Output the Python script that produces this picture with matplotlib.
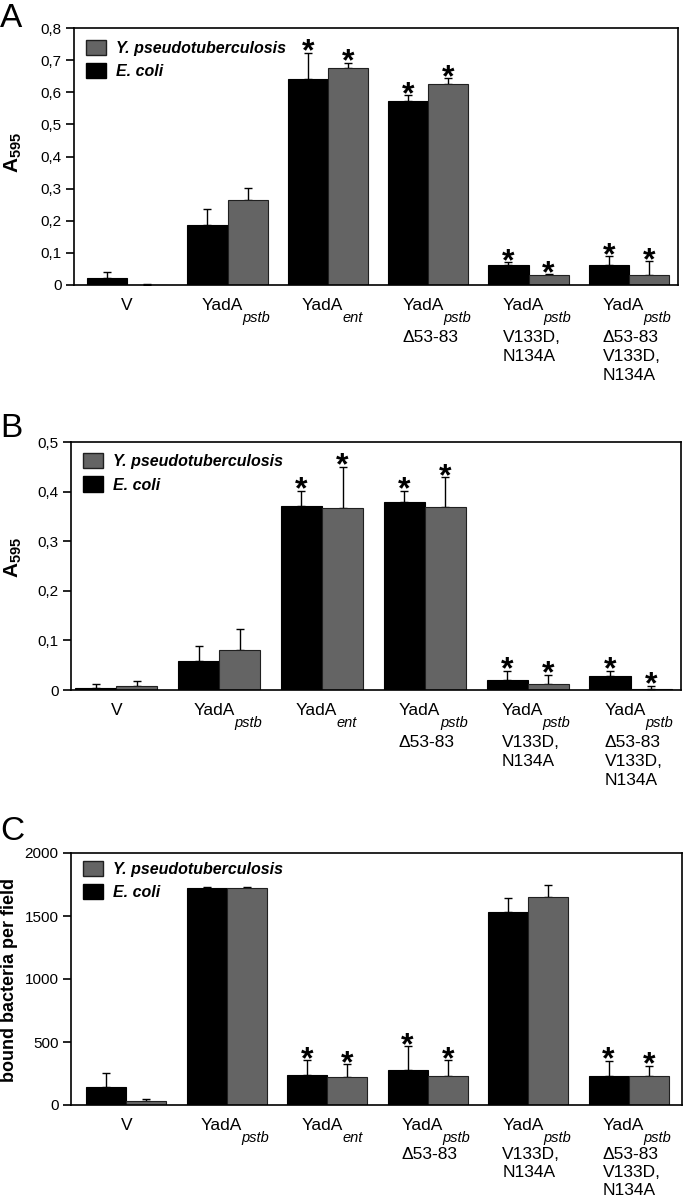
import numpy as np
import matplotlib
matplotlib.use("Agg")
import matplotlib.pyplot as plt
from matplotlib.patches import Patch

plt.rcParams['font.family'] = ['Liberation Sans', 'DejaVu Sans']
plt.rcParams['mathtext.fontset'] = 'custom'
plt.rcParams['mathtext.bf'] = 'Liberation Sans:bold'
plt.rcParams['mathtext.rm'] = 'Liberation Sans'

# groups on the x axis
cat_main = ['V', 'YadA', 'YadA', 'YadA', 'YadA', 'YadA']
cat_sub = ['', 'pstb', 'ent', 'pstb', 'pstb', 'pstb']
cat_extra = [[], [], [], ['Δ53-83'], ['V133D,', 'N134A'], ['Δ53-83', 'V133D,', 'N134A']]

series_names = ['Y. pseudotuberculosis', 'E. coli']

# panel A
a_ecoli = [0.023, 0.186, 0.642, 0.574, 0.061, 0.063]
a_ecoli_err = [0.017, 0.050, 0.080, 0.017, 0.010, 0.026]
a_yp = [0.0, 0.266, 0.674, 0.627, 0.030, 0.032]
a_yp_err = [0.004, 0.035, 0.017, 0.016, 0.003, 0.042]
a_stars = [False, False, True, True, True, True]
a_ticks = [0, 0.1, 0.2, 0.3, 0.4, 0.5, 0.6, 0.7, 0.8]
a_ticklabels = ['0', '0,1', '0,2', '0,3', '0,4', '0,5', '0,6', '0,7', '0,8']

# panel B
b_ecoli = [0.005, 0.059, 0.370, 0.380, 0.020, 0.029]
b_ecoli_err = [0.008, 0.030, 0.031, 0.021, 0.019, 0.010]
b_yp = [0.009, 0.081, 0.367, 0.369, 0.013, 0.003]
b_yp_err = [0.010, 0.042, 0.083, 0.060, 0.018, 0.006]
b_stars = [False, False, True, True, True, True]
b_ticks = [0, 0.1, 0.2, 0.3, 0.4, 0.5]
b_ticklabels = ['0', '0,1', '0,2', '0,3', '0,4', '0,5']

# panel C
c_ecoli = [143, 1720, 241, 279, 1528, 231]
c_ecoli_err = [114, 12, 114, 188, 117, 119]
c_yp = [32, 1720, 225, 231, 1650, 231]
c_yp_err = [16, 12, 99, 124, 93, 79]
c_stars = [False, False, True, True, False, True]
c_ticks = [0, 500, 1000, 1500, 2000]
c_ticklabels = ['0', '500', '1000', '1500', '2000']

BLACK = '#000000'
GRAY = '#646464'
W = 683
H = 1199

fig = plt.figure(figsize=(W / 100, H / 100), dpi=100)


def px(v):
    # pixels -> points
    return v * 72 / 100


def panel(rect, ecoli, ecoli_err, yp, yp_err, stars, ticks, ticklabels, xlim, leg_y,
          extra_start, line_step):
    ax = fig.add_axes(rect)
    x = np.arange(len(cat_main))
    w = 0.40
    ax.bar(x - w / 2, ecoli, w, color=BLACK, edgecolor=BLACK, linewidth=0.8, zorder=2)
    ax.bar(x + w / 2, yp, w, color=GRAY, edgecolor='#202020', linewidth=0.8, zorder=2)
    ax.errorbar(x - w / 2, ecoli, yerr=[np.zeros(len(x)), ecoli_err], fmt='none',
                ecolor=BLACK, elinewidth=1.0, capsize=3, capthick=1.0, zorder=1)
    ax.errorbar(x + w / 2, yp, yerr=[np.zeros(len(x)), yp_err], fmt='none',
                ecolor=BLACK, elinewidth=1.0, capsize=3, capthick=1.0, zorder=1)

    for i in range(len(x)):
        if stars[i]:
            for xx, top in [(x[i] - w / 2, ecoli[i] + ecoli_err[i]), (x[i] + w / 2, yp[i] + yp_err[i])]:
                ax.annotate('*', xy=(xx, top), xytext=(0, -5.5), textcoords='offset points',
                            ha='center', va='baseline', fontsize=23, fontweight='bold',
                            annotation_clip=False)

    ax.set_xlim(*xlim)
    ax.set_ylim(ticks[0], ticks[-1])
    ax.set_yticks(ticks)
    ax.set_yticklabels(ticklabels, fontsize=11)
    ax.set_xticks([])
    ax.tick_params(axis='y', direction='out', length=6, width=1.2, pad=3)
    for s in ax.spines.values():
        s.set_linewidth(1.2)

    # category labels under the axis
    for i in range(len(x)):
        if cat_sub[i] == '':
            ax.annotate(cat_main[i], xy=(x[i], 0), xycoords=('data', 'axes fraction'),
                        xytext=(0, px(-25)), textcoords='offset points',
                        ha='center', va='baseline', fontsize=12.5, annotation_clip=False)
            continue
        ax.annotate(cat_main[i], xy=(x[i], 0), xycoords=('data', 'axes fraction'),
                    xytext=(px(-26), px(-25)), textcoords='offset points',
                    ha='left', va='baseline', fontsize=12.5, annotation_clip=False)
        ax.annotate(cat_sub[i], xy=(x[i], 0), xycoords=('data', 'axes fraction'),
                    xytext=(px(15), px(-37)), textcoords='offset points',
                    ha='left', va='baseline', fontsize=10.5, style='italic', annotation_clip=False)
        for j, line in enumerate(cat_extra[i]):
            ax.annotate(line, xy=(x[i], 0), xycoords=('data', 'axes fraction'),
                        xytext=(px(-26), px(-extra_start - line_step * j)), textcoords='offset points',
                        ha='left', va='baseline', fontsize=12.5, annotation_clip=False)

    handles = [Patch(facecolor=GRAY, edgecolor='#202020', linewidth=1.0),
               Patch(facecolor=BLACK, edgecolor=BLACK, linewidth=1.0)]
    ax.legend(handles, series_names, loc='upper left', bbox_to_anchor=(0.02, leg_y),
              frameon=False, borderpad=0, borderaxespad=0, handlelength=1.25,
              handleheight=1.1, labelspacing=0.45, handletextpad=0.6,
              prop={'weight': 'bold', 'style': 'italic', 'size': 11.5})
    return ax


ax_a = panel([74 / W, 1 - 285 / H, 604 / W, 257 / H], a_ecoli, a_ecoli_err, a_yp, a_yp_err,
             a_stars, a_ticks, a_ticklabels, (-0.53, 5.49), 0.955, 57, 19)
ax_b = panel([71 / W, 1 - 690 / H, 610 / W, 248 / H], b_ecoli, b_ecoli_err, b_yp, b_yp_err,
             b_stars, b_ticks, b_ticklabels, (-0.44, 5.49), 0.955, 57, 19)
ax_c = panel([71 / W, 1 - 1105 / H, 611 / W, 252 / H], c_ecoli, c_ecoli_err, c_yp, c_yp_err,
             c_stars, c_ticks, c_ticklabels, (-0.55, 5.53), 0.97, 54, 18)

fig.text(13 / W, 1 - 153 / H, r'$\mathbf{A}_{\mathbf{595}}$', rotation=90, ha='center', va='center', fontsize=15)
fig.text(13 / W, 1 - 558 / H, r'$\mathbf{A}_{\mathbf{595}}$', rotation=90, ha='center', va='center', fontsize=15)
fig.text(10 / W, 1 - 980 / H, 'bound bacteria per field', rotation=90, ha='center', va='center',
         fontsize=13, fontweight='bold')

fig.text(0, 1 - 27 / H, 'A', fontsize=24, va='baseline', ha='left')
fig.text(0, 1 - 437 / H, 'B', fontsize=24, va='baseline', ha='left')
fig.text(0, 1 - 840 / H, 'C', fontsize=24, va='baseline', ha='left')

plt.savefig('out.png', dpi=100)
